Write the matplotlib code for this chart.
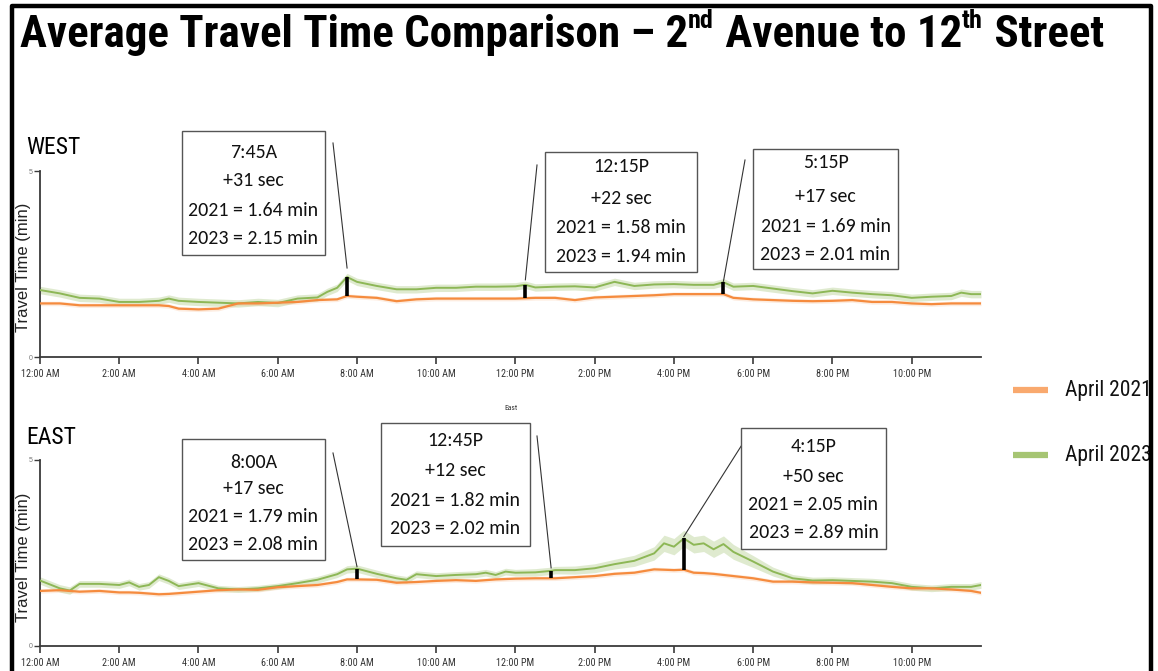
import matplotlib
matplotlib.use("Agg")
import matplotlib.pyplot as plt
from matplotlib import font_manager
from matplotlib.lines import Line2D
from matplotlib.patches import Rectangle
import numpy as np

# ---------------- data ----------------
west_hours = [0, 0.5, 1, 1.5, 2, 2.5, 3, 3.25, 3.5, 4, 4.5, 5, 5.5, 6, 6.5, 7, 7.25, 7.5, 7.75, 8,
              8.5, 9, 9.5, 10, 10.5, 11, 11.5, 12, 12.25, 12.5, 13, 13.5, 14, 14.5, 15, 15.5, 16,
              16.5, 17, 17.25, 17.5, 18, 18.5, 19, 19.5, 20, 20.5, 21, 21.5, 22, 22.5, 23, 23.25,
              23.5, 23.75]
west_2023 = [1.80, 1.71, 1.59, 1.57, 1.48, 1.48, 1.51, 1.57, 1.51, 1.48, 1.46, 1.44, 1.48, 1.45,
             1.57, 1.60, 1.75, 1.86, 2.15, 2.02, 1.91, 1.82, 1.82, 1.86, 1.86, 1.89, 1.89, 1.90,
             1.94, 1.87, 1.89, 1.90, 1.87, 2.02, 1.91, 1.95, 1.96, 1.94, 1.94, 2.01, 1.89, 1.91,
             1.84, 1.77, 1.71, 1.78, 1.73, 1.69, 1.66, 1.59, 1.62, 1.64, 1.73, 1.69, 1.69]
west_2021 = [1.44, 1.44, 1.39, 1.39, 1.39, 1.39, 1.39, 1.37, 1.30, 1.28, 1.30, 1.44, 1.44, 1.46,
             1.48, 1.53, 1.54, 1.55, 1.64, 1.62, 1.59, 1.50, 1.55, 1.57, 1.57, 1.57, 1.57, 1.57,
             1.58, 1.59, 1.59, 1.53, 1.60, 1.62, 1.64, 1.66, 1.69, 1.69, 1.69, 1.69, 1.59, 1.55,
             1.53, 1.51, 1.50, 1.51, 1.53, 1.48, 1.48, 1.44, 1.42, 1.44, 1.44, 1.44, 1.44]

east_hours = [0, 0.5, 0.75, 1, 1.5, 2, 2.25, 2.5, 2.75, 3, 3.25, 3.5, 4, 4.5, 5, 5.5, 6, 6.5, 7,
              7.5, 7.75, 8, 8.5, 9, 9.25, 9.5, 10, 10.5, 11, 11.25, 11.5, 11.75, 12, 12.5, 12.9,
              13, 13.5, 14, 14.5, 15, 15.5, 15.75, 16, 16.25, 16.5, 16.75, 17, 17.25, 17.5, 18,
              18.5, 19, 19.5, 20, 20.5, 21, 21.5, 22, 22.5, 23, 23.5, 23.75]
east_2023 = [1.76, 1.55, 1.49, 1.67, 1.67, 1.64, 1.71, 1.59, 1.64, 1.85, 1.75, 1.61, 1.69, 1.55,
             1.52, 1.55, 1.61, 1.69, 1.78, 1.93, 2.06, 2.08, 1.94, 1.82, 1.78, 1.93, 1.88, 1.91,
             1.93, 1.97, 1.91, 2.00, 1.97, 1.98, 2.02, 2.04, 2.04, 2.09, 2.20, 2.29, 2.49, 2.76,
             2.67, 2.89, 2.72, 2.76, 2.60, 2.74, 2.53, 2.27, 2.00, 1.82, 1.76, 1.77, 1.75, 1.73,
             1.69, 1.59, 1.55, 1.59, 1.59, 1.64]
east_2021 = [1.48, 1.50, 1.48, 1.46, 1.48, 1.44, 1.44, 1.43, 1.41, 1.39, 1.40, 1.42, 1.46, 1.50,
             1.52, 1.51, 1.58, 1.61, 1.64, 1.72, 1.79, 1.79, 1.78, 1.70, 1.71, 1.72, 1.75, 1.77,
             1.75, 1.77, 1.79, 1.80, 1.81, 1.82, 1.82, 1.82, 1.85, 1.88, 1.94, 1.97, 2.06, 2.05,
             2.04, 2.05, 1.97, 1.96, 1.94, 1.91, 1.88, 1.82, 1.73, 1.73, 1.71, 1.70, 1.69, 1.64,
             1.59, 1.55, 1.55, 1.52, 1.48, 1.43]
# confidence band half widths (min)
west_2023_band = 0.10
west_2021_band = 0.06
east_2021_band = 0.06
east_2023_band = [0.10, 0.10, 0.10, 0.09, 0.09, 0.09, 0.09, 0.09, 0.09, 0.09, 0.09, 0.09, 0.09,
                  0.08, 0.08, 0.08, 0.08, 0.08, 0.09, 0.09, 0.10, 0.10, 0.10, 0.09, 0.09, 0.09,
                  0.09, 0.09, 0.09, 0.09, 0.09, 0.09, 0.09, 0.10, 0.10, 0.10, 0.11, 0.12, 0.13,
                  0.15, 0.18, 0.22, 0.22, 0.22, 0.22, 0.22, 0.22, 0.22, 0.20, 0.16, 0.12, 0.10,
                  0.09, 0.09, 0.09, 0.09, 0.09, 0.09, 0.09, 0.09, 0.09, 0.09]

xtick_hours = [0, 2, 4, 6, 8, 10, 12, 14, 16, 18, 20, 22]
xtick_labels = ["12:00 AM", "2:00 AM", "4:00 AM", "6:00 AM", "8:00 AM", "10:00 AM",
                "12:00 PM", "2:00 PM", "4:00 PM", "6:00 PM", "8:00 PM", "10:00 PM"]

west_notes_hours = [7.75, 12.25, 17.25]
west_notes_2021 = [1.64, 1.58, 1.69]
west_notes_2023 = [2.15, 1.94, 2.01]
west_notes_time = ["7:45A", "12:15P", "5:15P"]
west_notes_delta = ["+31 sec", "+22 sec", "+17 sec"]
east_notes_hours = [8.0, 12.9, 16.25]
east_notes_2021 = [1.79, 1.82, 2.05]
east_notes_2023 = [2.08, 2.02, 2.89]
east_notes_time = ["8:00A", "12:45P", "4:15P"]
east_notes_delta = ["+17 sec", "+12 sec", "+50 sec"]

# ---------------- fonts ----------------
W, H = 1158, 671
flist = font_manager.fontManager.ttflist
names = {f.name for f in flist}


def has_condensed(fam):
    for f in flist:
        if f.name == fam:
            st = f.stretch
            if isinstance(st, str):
                if "condensed" in st and "semi" not in st:
                    return True
            elif isinstance(st, (int, float)) and st < 450:
                return True
    return False


def pick_narrow():
    for fam in ["Liberation Sans Narrow", "Arial Narrow", "Roboto Condensed",
                "Open Sans Condensed"]:
        if fam in names:
            return dict(family=fam)
    for fam in ["Roboto", "Noto Sans", "Open Sans"]:
        if has_condensed(fam):
            return dict(family=fam, fontstretch="condensed")
    return dict(family="Liberation Sans")


NARROW = pick_narrow()
ARIAL = "Liberation Sans"
BOXFONT = "Carlito" if "Carlito" in names else "Lato"
ORANGE = "#F58B3E"
GREEN = "#8DB756"
LEG_ORANGE = "#F9A96E"
LEG_GREEN = "#A6C573"

fig = plt.figure(figsize=(W / 100, H / 100), dpi=100)
fig.patch.set_facecolor("white")


def fx(x):
    return x / W


def fy(y):
    return 1 - y / H


def make_axes(top_px, bottom_px):
    ax = fig.add_axes([fx(40), fy(bottom_px), fx(981) - fx(40), (bottom_px - top_px) / H])
    ax.set_xlim(0, 23.75)
    ax.set_ylim(0, 5)
    for s in ["top", "right"]:
        ax.spines[s].set_visible(False)
    for s in ["left", "bottom"]:
        ax.spines[s].set_color("#3a3a3a")
        ax.spines[s].set_linewidth(1.3)
    ax.set_yticks([0, 5])
    ax.set_yticklabels(["0", "5"], fontsize=5, color="#777777", family=ARIAL)
    ax.set_xticks(xtick_hours)
    ax.set_xticklabels(xtick_labels, fontsize=7.3, color="#333333", **NARROW)
    ax.tick_params(axis="x", length=5, width=1.2, color="#3a3a3a", pad=3.5)
    ax.tick_params(axis="y", length=4, width=1.0, color="#3a3a3a", pad=1.5)
    ax.patch.set_alpha(0)
    return ax


def draw_panel(ax, hours, v21, v23, b21, b23, nh, n21, n23):
    v21 = np.asarray(v21)
    v23 = np.asarray(v23)
    ax.fill_between(hours, v23 - np.asarray(b23), v23 + np.asarray(b23), color=GREEN,
                    alpha=0.28, lw=0, zorder=1)
    ax.fill_between(hours, v21 - np.asarray(b21), v21 + np.asarray(b21), color=ORANGE,
                    alpha=0.16, lw=0, zorder=1)
    ax.plot(hours, v23, color=GREEN, lw=1.4, zorder=3)
    ax.plot(hours, v21, color=ORANGE, lw=1.6, zorder=3)
    ax.vlines(nh, n21, n23, color="black", lw=2.6, zorder=5)


ax_w = make_axes(171, 357)
draw_panel(ax_w, west_hours, west_2021, west_2023, west_2021_band, west_2023_band,
           west_notes_hours, west_notes_2021, west_notes_2023)
ax_e = make_axes(460, 646)
draw_panel(ax_e, east_hours, east_2021, east_2023, east_2021_band, east_2023_band,
           east_notes_hours, east_notes_2021, east_notes_2023)

ax_e.text(0.5, 1.28, "East", transform=ax_e.transAxes, ha="center", va="center",
          fontsize=5.5, color="#333333", **NARROW)

fig.text(fx(26), fy(148), "WEST", fontsize=17, va="center", ha="left", **NARROW)
fig.text(fx(26), fy(437), "EAST", fontsize=17, va="center", ha="left", **NARROW)
for cy in (267, 557):
    fig.text(fx(24), fy(cy), "Travel Time (min)", rotation=90, fontsize=12, family=ARIAL,
             va="center", ha="center", color="#222222")

boxes_w = [(182, 131, 325, 255, [152, 181, 210, 238], (333, 143)),
           (545, 152, 697, 272, [166, 198, 227, 256], (537, 165)),
           (753, 149, 898, 269, [163, 197, 226, 254], (745, 160))]
boxes_e = [(182, 439, 325, 560, [462, 489, 517, 545], (333, 453)),
           (381, 423, 530, 546, [440, 471, 501, 529], (537, 436)),
           (741, 428, 886, 549, [446, 476, 505, 533], (745, 440))]


def draw_boxes(ax, boxes, nh, n21, n23, ntime, ndelta, gaps):
    for i, (x0, y0, x1, y1, ly, start) in enumerate(boxes):
        fig.patches.append(Rectangle((fx(x0), fy(y1)), fx(x1) - fx(x0), (y1 - y0) / H,
                                     transform=fig.transFigure, facecolor="white",
                                     edgecolor="#555555", lw=1.0, zorder=10))
        lines = [ntime[i], ndelta[i], "2021 = %.2f min" % n21[i], "2023 = %.2f min" % n23[i]]
        for t, yy in zip(lines, ly):
            fig.text(fx((x0 + x1) / 2), fy(yy), t, ha="center", va="center", fontsize=14.3,
                     family=BOXFONT, color="#111111", zorder=11)
        px, py = ax.transData.transform((nh[i], n23[i]))
        end = (px, py + gaps[i])
        fig.add_artist(Line2D([fx(start[0]), end[0] / W], [fy(start[1]), end[1] / H],
                              color="#333333", lw=0.8, transform=fig.transFigure, zorder=9))


draw_boxes(ax_w, boxes_w, west_notes_hours, west_notes_2021, west_notes_2023,
           west_notes_time, west_notes_delta, [9, 5, 1])
draw_boxes(ax_e, boxes_e, east_notes_hours, east_notes_2021, east_notes_2023,
           east_notes_time, east_notes_delta, [2, 3, 2])

for yy, col, lab in ((390, LEG_ORANGE, "April 2021"), (455, LEG_GREEN, "April 2023")):
    fig.add_artist(Line2D([fx(1013), fx(1048)], [fy(yy), fy(yy)], color=col, lw=4.5,
                          transform=fig.transFigure, solid_capstyle="butt"))
    fig.text(fx(1065), fy(yy), lab, fontsize=15.5, va="center", ha="left",
             color="#111111", **NARROW)

title_pieces = [("Average Travel Time Comparison \u2013 2", False), ("nd", True),
                (" Avenue to 12", False), ("th", True), (" Street", False)]
renderer = fig.canvas.get_renderer()


def draw_title(fs):
    arts = []
    x = 20.0
    for txt, sup in title_pieces:
        size = fs * 0.58 if sup else fs
        yb = 47 - (fs * 0.43 * 100 / 72 if sup else 0)
        t = fig.text(fx(x), fy(yb), txt, fontsize=size, fontweight="bold",
                     va="baseline", ha="left", color="black", **NARROW)
        bb = t.get_window_extent(renderer)
        x += bb.width + (1 if sup else 0)
        arts.append(t)
    return arts, x - 20.0


arts, width = draw_title(33)
for a in arts:
    a.remove()
arts, width = draw_title(33 * 1085.0 / width)

frame = Line2D([fx(12), fx(12), fx(1151), fx(1151)], [fy(672), fy(6), fy(6), fy(672)],
               color="black", lw=3.2, transform=fig.transFigure, zorder=50)
fig.add_artist(frame)
fig.patches.append(Rectangle((fx(1153), 0), 1 - fx(1153), 1, transform=fig.transFigure,
                             facecolor="white", edgecolor="none", zorder=49))

fig.savefig("out.png", dpi=100, facecolor="white")
